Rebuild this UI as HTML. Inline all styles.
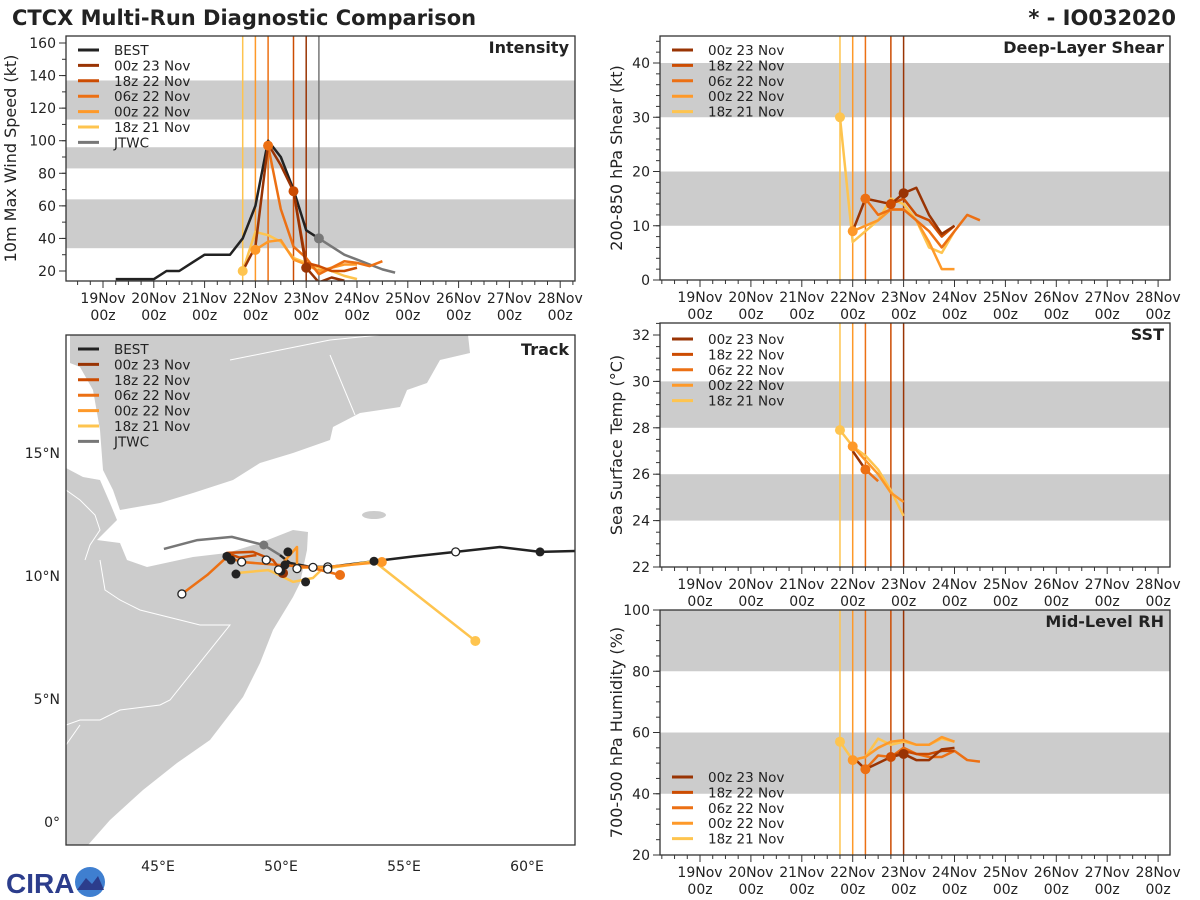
<!DOCTYPE html>
<html><head><meta charset="utf-8"><style>
body{margin:0;background:#fff;}
svg{display:block;font-family:"DejaVu Sans","Liberation Sans",sans-serif;}
</style></head><body>
<svg id="fig" width="1200" height="900" viewBox="0 0 1200 900" xmlns="http://www.w3.org/2000/svg">
<text x="12" y="25" font-size="21" font-weight="bold" fill="#222">CTCX Multi-Run Diagnostic Comparison</text>
<text x="1176" y="25" font-size="21" font-weight="bold" fill="#222" text-anchor="end">* - IO032020</text>
<g id="logo">
<text x="6" y="893" font-size="28" font-weight="bold" fill="#2c3d8c" font-family="Liberation Sans,sans-serif">CIRA</text>
<circle cx="90" cy="882" r="15" fill="#3f7fd0"/>
<path d="M77 890 L86 878 L92 884 L98 876 L104 890 Z" fill="#2c3d8c"/>
</g>
</svg>
<script>
const NS='http://www.w3.org/2000/svg';
const svg=document.getElementById('fig');
function el(tag,attrs,parent,txt){const e=document.createElementNS(NS,tag);for(const k in attrs)e.setAttribute(k,attrs[k]);if(txt!==undefined)e.textContent=txt;(parent||svg).appendChild(e);return e;}

// ---------- data ----------
const runNames=['00z 23 Nov','18z 22 Nov','06z 22 Nov','00z 22 Nov','18z 21 Nov'];
const runColors=['#993404','#cc4c02','#ec7014','#fe9929','#fec44f'];
const runInit=[4.0,3.75,3.25,3.0,2.75]; // days since 19 Nov 00z
const dayLabels=['19Nov','20Nov','21Nov','22Nov','23Nov','24Nov','25Nov','26Nov','27Nov','28Nov'];

const bestT=[0.25,0.5,0.75,1.0,1.25,1.5,1.75,2.0,2.25,2.5,2.75,3.0,3.25,3.5,3.75,4.0,4.25];
const bestV=[15,15,15,15,20,20,25,30,30,30,40,60,100,90,70,45,40];
const jtwcT=[4.25,4.5,4.75,5.0,5.25,5.5,5.75];
const jtwcV=[40,35,30,27,24,21,19];

const intT=[[2.75,3.0,3.25,3.5,3.75,4.0,4.25,4.5,4.75],
 [3.75,4.0,4.25,4.5,4.75,5.0],
 [3.25,3.5,3.75,4.0,4.25,4.5,4.75,5.0,5.25,5.5],
 [3.0,3.25,3.5,3.75,4.0,4.25,4.5,4.75,5.0],
 [2.75,3.0,3.25,3.5,3.75,4.0,4.25,4.5,4.75,5.0]];
const intV=[[20,35,98,85,69,22,13,16,14],
 [69,25,23,20,20,22],
 [97,58,35,28,18,22,26,25,23,26],
 [33,38,39,27,24,20,22,24,24],
 [20,44,42,38,28,25,22,20,17,15]];

const shrT=[[3.0,3.25,3.5,3.75,4.0,4.25,4.5,4.75,5.0],
 [3.75,4.0,4.25,4.5,4.75,5.0],
 [3.25,3.5,3.75,4.0,4.25,4.5,4.75,5.0,5.25,5.5],
 [3.0,3.25,3.5,3.75,4.0,4.25,4.5,4.75,5.0],
 [2.75,3.0,3.25,3.5,3.75,4.0,4.25,4.5,4.75,5.0]];
const shrV=[[9,15,14.5,14,16,17,12,8.5,10],
 [14,15,12,11,8,10],
 [15,12,13,13,11,9,6,9,12,11],
 [9,10,11,13,13,11,7,2,2],
 [30,7,9,11,15,14,11,6,5,9]];

const sstT=[[3.0,3.25],[],[3.25,3.5],[3.0,3.25,3.5,3.75,4.0],[2.75,3.0,3.25,3.5,3.75,4.0]];
const sstV=[[27.0,26.2],[],[26.2,25.7],[27.2,26.6,26.0,25.2,24.8],[27.9,27.2,26.8,26.2,25.3,24.2]];

const rhT=[[3.0,3.25,3.5,3.75,4.0,4.25,4.5,4.75,5.0],
 [3.75,4.0,4.25,4.5,4.75,5.0],
 [3.25,3.5,3.75,4.0,4.25,4.5,4.75,5.0,5.25,5.5],
 [3.0,3.25,3.5,3.75,4.0,4.25,4.5,4.75,5.0],
 [2.75,3.0,3.25,3.5,3.75,4.0,4.25,4.5,4.75,5.0]];
const rhV=[[52,48,50,52,53,51,51,54.5,55],
 [52,54,53,53,54,54],
 [48,52.5,52,55,53,52,52,54,51,50.5],
 [51,52,55,57,57.5,56,56,58.5,57],
 [57,51,52,58,56,57,56,56,58,57]];

// tracks (lon, lat)
const bestLon=[62.0,60.53,58.9,57.1,55.4,53.78,51.99,51.18,50.37,49.96];
const bestLat=[11.02,10.98,11.18,10.98,10.8,10.6,10.37,10.37,10.53,10.85];
const bestDotLon=[50.28,51.0,47.8,47.97,48.17,50.16,50.0,60.53,53.78];
const bestDotLat=[10.98,9.76,10.8,10.65,10.08,10.45,10.2,10.98,10.6];
const openLon=[57.1,45.97,48.4,49.4,51.9,51.9,50.65,51.3,49.9];
const openLat=[10.98,9.27,10.57,10.65,10.37,10.28,10.3,10.35,10.25];
const jtwcLon=[49.96,49.3,48.0,46.6,45.24];
const jtwcLat=[10.85,11.26,11.59,11.46,11.1];
const trkLon=[[50.08,49.95,50.2],
 [50.08,49.67,48.86,47.8,48.3,49.0],
 [52.4,51.1,49.88,48.4,47.8,47.0,45.97],
 [54.1,51.9,50.65,50.65,50.08],
 [57.9,53.78,51.67,51.3,50.49,49.67,49.47,48.2]];
const trkLat=[[10.12,10.25,10.3],
 [10.12,10.65,10.98,10.94,10.75,10.85],
 [10.04,10.37,10.45,10.57,10.77,10.04,9.27],
 [10.57,10.37,10.33,11.18,10.53],
 [7.36,10.6,10.28,9.92,9.76,10.16,10.24,10.12]];

// ---------- timeseries panel ----------
function tsPanel(o){
 const g=el('g',{},svg);
 
 
 const L=o.x0,R=o.x1,T=o.y0,B=o.y1;
 const tx=t=>o.tx0+t*o.pxDay;
 const vy=v=>o.yb-(v-o.vb)*o.pxUnit;
 el('rect',{x:L,y:T,width:R-L,height:B-T,fill:'#fff'},g);
 o.bands.forEach(b=>{const y1=Math.max(T,vy(b[1])),y2=Math.min(B,vy(b[0]));
  const r=el('rect',{x:L,y:y1,width:R-L,height:y2-y1,fill:'#cccccc'},g);
  });
 const clip='c'+o.name;
 const cp=el('clipPath',{id:clip},g);el('rect',{x:L,y:T,width:R-L,height:B-T},cp);
 const pg=el('g',{'clip-path':'url(#'+clip+')'},g);
 runInit.forEach((t,i)=>{const ln=el('line',{x1:tx(t),x2:tx(t),y1:T,y2:B,stroke:runColors[i],'stroke-width':1.5},pg);
  });
 if(o.jtwcLine){const ln=el('line',{x1:tx(4.25),x2:tx(4.25),y1:T,y2:B,stroke:'#777','stroke-width':1.5},pg);
  }
 const series=(ts,vs,col,name,w)=>{if(!ts.length)return;const p=el('polyline',{points:ts.map((t,k)=>tx(t)+','+vy(vs[k])).join(' '),fill:'none',stroke:col,'stroke-width':w||2.5,'stroke-linejoin':'round'},pg);
  };
 if(o.best){series(bestT,bestV,'#222','best-line');series(jtwcT,jtwcV,'#777','jtwc-line');}
 for(let i=4;i>=0;i--)series(o.T[i],o.V[i],runColors[i],'run-line-'+i);
 for(let i=4;i>=0;i--){const k=o.T[i].indexOf(runInit[i]);if(k>=0){const c=el('circle',{cx:tx(runInit[i]),cy:vy(o.V[i][k]),r:5,fill:runColors[i]},pg);
  }}
 if(o.best){const c=el('circle',{cx:tx(4.25),cy:vy(40),r:5,fill:'#777'},pg);}
 el('rect',{x:L,y:T,width:R-L,height:B-T,fill:'none',stroke:'#333','stroke-width':1.3},g);
 for(let q=-3;q<=38;q++){const t=q*0.25,x=tx(t);if(x<L||x>R)continue;
  el('line',{x1:x,x2:x,y1:B,y2:B+(q%4===0?7:4),stroke:'#333'},g);}
 dayLabels.forEach((d,i)=>{const x=tx(i);
  const a=el('text',{x:x,y:B+22,'font-size':14,'text-anchor':'middle',fill:'#222'},g,d);
  el('text',{x:x,y:B+39,'font-size':14,'text-anchor':'middle',fill:'#222'},g,'00z');});
 o.yt.forEach(v=>{const y=vy(v);el('line',{x1:L-7,x2:L,y1:y,y2:y,stroke:'#333'},g);
  const t=el('text',{x:L-10,y:y+5,'font-size':14,'text-anchor':'end',fill:'#222'},g,String(v));});
 for(let v=o.minorStart;v<=o.minorEnd;v+=o.minor){const y=vy(v);if(y<T||y>B)continue;el('line',{x1:L-4,x2:L,y1:y,y2:y,stroke:'#333'},g);}
 const yl=el('text',{transform:`translate(${o.ylx},${(T+B)/2}) rotate(-90)`,'font-size':16,'text-anchor':'middle',fill:'#222'},g,o.ylabel);
 
 const tt=el('text',{x:R-6,y:T+17,'font-size':16,'font-weight':'bold','text-anchor':'end',fill:'#222'},g,o.title);
 
 legend(g,L+12,o.legY,o.best);
}
function legend(g,x,y,withBest){
 const names=withBest?['BEST',...runNames,'JTWC']:runNames;
 const cols=withBest?['#222',...runColors,'#777']:runColors;
 names.forEach((n,i)=>{const yy=y+i*15.4;
  el('line',{x1:x,x2:x+21,y1:yy,y2:yy,stroke:cols[i],'stroke-width':3},g);
  const t=el('text',{x:x+36,y:yy+5,'font-size':13.5,fill:'#222'},g,n);
  });
}

tsPanel({name:'intensity-panel',x0:66,x1:575,y0:36,y1:281,tx0:103,pxDay:50.8,yb:271,vb:20,pxUnit:228/140,
 bands:[[34,64],[83,96],[113,137]],yt:[20,40,60,80,100,120,140,160],minor:10,minorStart:20,minorEnd:160,
 ylabel:'10m Max Wind Speed (kt)',ylx:16,title:'Intensity',T:intT,V:intV,best:true,jtwcLine:true,legY:50});
tsPanel({name:'shear-panel',x0:660,x1:1170,y0:36,y1:280,tx0:700,pxDay:50.9,yb:280,vb:0,pxUnit:217/40,
 bands:[[10,20],[30,40]],yt:[0,10,20,30,40],minor:2,minorStart:0,minorEnd:44,
 ylabel:'200-850 hPa Shear (kt)',ylx:622,title:'Deep-Layer Shear',T:shrT,V:shrV,best:false,legY:50});
tsPanel({name:'sst-panel',x0:660,x1:1170,y0:323,y1:567,tx0:700,pxDay:50.9,yb:567,vb:22,pxUnit:23.2,
 bands:[[24,26],[28,30]],yt:[22,24,26,28,30,32],minor:0.5,minorStart:22,minorEnd:32.5,
 ylabel:'Sea Surface Temp (°C)',ylx:622,title:'SST',T:sstT,V:sstV,best:false,legY:339});
tsPanel({name:'rh-panel',x0:660,x1:1170,y0:610,y1:855,tx0:700,pxDay:50.9,yb:855,vb:20,pxUnit:245/80,
 bands:[[40,60],[80,100]],yt:[20,40,60,80,100],minor:5,minorStart:20,minorEnd:100,
 ylabel:'700-500 hPa Humidity (%)',ylx:622,title:'Mid-Level RH',T:rhT,V:rhV,best:false,legY:777});

// ---------- track panel ----------
(function(){
 const g=el('g',{},svg);
 
 const L=66,R=575,T=335,B=845;
 const lx=lon=>281+(lon-50)*24.6;
 const ly=lat=>576-(lat-10)*24.6;
 const cp=el('clipPath',{id:'trk'},g);el('rect',{x:L,y:T,width:R-L,height:B-T},cp);
 const pg=el('g',{'clip-path':'url(#trk)'},g);
 el('rect',{x:L,y:T,width:R-L,height:B-T,fill:'#fff'},pg);
 const ar=el('polygon',{points:'70,335 468,335 470,353 440,360 427,383 407,390 400,407 360,413 333,427 330,440 293,453 260,463 233,480 193,493 160,503 120,510 113,490 103,470 100,430 93,390 80,367 70,363',fill:'#cccccc'},pg);
 
 const af=el('polygon',{points:'66,468 83,477 100,480 110,503 117,520 97,540 120,543 127,560 147,567 193,557 227,553 260,543 293,530 308,532 307,550 300,583 293,597 273,630 260,663 243,697 210,740 177,763 143,790 110,820 88,845 66,845',fill:'#cccccc'},pg);
 
 el('ellipse',{cx:374,cy:515,rx:12,ry:4,fill:'#cccccc'},pg);
 ['M66,490 L80,500 L95,515 L100,530 L90,545 L85,560','M230,360 L280,350 L330,340 L380,335','M330,355 L355,415','M100,560 L105,590 L120,600 L140,610 L200,625 L230,625 L170,700 L160,705 L120,710 L100,720 L80,720 L66,725','M66,745 L80,725'].forEach(p=>el('path',{d:p,fill:'none',stroke:'#fff','stroke-width':1},pg));
 const line=(lo,la,col,name,w)=>{const p=el('polyline',{points:lo.map((v,k)=>lx(v)+','+ly(la[k])).join(' '),fill:'none',stroke:col,'stroke-width':w||2.5,'stroke-linejoin':'round'},pg);
  };
 line(jtwcLon,jtwcLat,'#777','jtwc-track');
 line(bestLon,bestLat,'#222','best-track');
 for(let i=4;i>=0;i--)line(trkLon[i],trkLat[i],runColors[i],'run-track-'+i);
 for(let i=4;i>=0;i--){const c=el('circle',{cx:lx(trkLon[i][0]),cy:ly(trkLat[i][0]),r:5,fill:runColors[i]},pg);}
 const gc=el('circle',{cx:lx(jtwcLon[1]),cy:ly(jtwcLat[1]),r:4.5,fill:'#777'},pg);
 bestDotLon.forEach((v,k)=>{const c=el('circle',{cx:lx(v),cy:ly(bestDotLat[k]),r:4.5,fill:'#222'},pg);});
 openLon.forEach((v,k)=>{const c=el('circle',{cx:lx(v),cy:ly(openLat[k]),r:4,fill:'#fff',stroke:'#222','stroke-width':1.3},pg);});
 el('rect',{x:L,y:T,width:R-L,height:B-T,fill:'none',stroke:'#333','stroke-width':1.3},g);
 [45,50,55,60].forEach(v=>{const t=el('text',{x:lx(v),y:871,'font-size':14,'text-anchor':'middle',fill:'#222'},g,v+'°E');});
 [[0,'0°'],[5,'5°N'],[10,'10°N'],[15,'15°N']].forEach(v=>{const t=el('text',{x:60,y:ly(v[0])+5,'font-size':14,'text-anchor':'end',fill:'#222'},g,v[1]);});
 const tt=el('text',{x:R-6,y:T+20,'font-size':16,'font-weight':'bold','text-anchor':'end',fill:'#222'},g,'Track');
 
 legend(g,L+12,T+14,true);
})();
</script>
</body></html>
